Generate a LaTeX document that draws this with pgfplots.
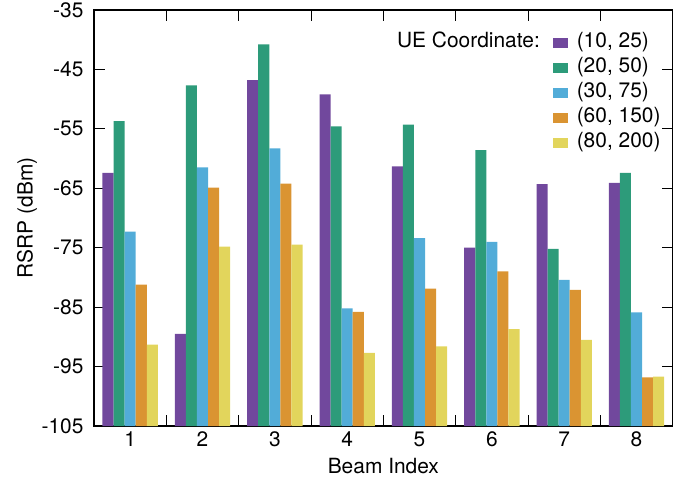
\documentclass[border=0pt]{standalone}
\usepackage{fontspec}
\setmainfont{TeX Gyre Heros}
\usepackage{pgfplots}
\usepackage{pgfplotstable}
\pgfplotsset{compat=1.18}
\definecolor{cA}{RGB}{113,72,157}
\definecolor{cB}{RGB}{45,155,122}
\definecolor{cC}{RGB}{82,172,216}
\definecolor{cD}{RGB}{218,148,50}
\definecolor{cE}{RGB}{226,213,92}
\pgfplotstableread{
beam a b c d e
1 -62.4 -53.7 -72.3 -81.2 -91.3
2 -89.5 -47.7 -61.5 -64.9 -74.8
3 -46.8 -40.8 -58.3 -64.2 -74.5
4 -49.2 -54.6 -85.2 -85.8 -92.7
5 -61.3 -54.3 -73.4 -81.9 -91.6
6 -75.0 -58.6 -74.0 -79.0 -88.7
7 -64.3 -75.2 -80.4 -82.1 -90.5
8 -64.1 -62.4 -85.9 -96.8 -96.7
}\datatable
\newcommand{\fs}{\fontsize{21}{25}\selectfont}
\begin{document}
\begin{tikzpicture}
\useasboundingbox (-94bp,-57bp) rectangle (600bp,426bp);
\begin{axis}[
  at={(0,0)}, anchor=south west,
  scale only axis, width=578.7bp, height=416bp,
  xmin=0.5, xmax=8.5, ymin=0, ymax=70,
  ybar=0pt, bar width=0.153,
  xtick={1,...,8}, xticklabels={1,2,3,4,5,6,7,8},
  major x tick style={draw=none},
  minor xtick={1.5,2.5,...,7.5},
  ytick={0,10,...,70},
  yticklabels={-105,-95,-85,-75,-65,-55,-45,-35},
  major tick length=11bp, minor tick length=11bp,
  tick align=inside,
  tick style={black, line width=1bp},
  axis line style={line width=1.3bp},
  /pgf/number format/assume math mode=true,
  tick label style={font=\fs},
  yticklabel style={xshift=-7bp},
  xticklabel style={yshift=-2bp},
  xlabel={Beam Index}, ylabel={RSRP (dBm)},
  label style={font=\fs},
  x label style={at={(axis description cs:0.5,0)}, anchor=center, yshift=-40bp},
  y label style={at={(axis description cs:-0.1158,0.5)}, anchor=center, rotate=0},
  legend image code/.code={\fill[#1] (0bp,-5bp) rectangle (15bp,5bp);},
  legend style={draw=none, fill=none, font=\fs, inner sep=0pt,
    at={(1,1)}, anchor=north east, xshift=-10bp, yshift=-23.5bp,
    nodes={text height=14bp, text depth=5bp, inner ysep=0pt},
    row sep=6bp, column sep=7bp},
  legend cell align=left,
]
\addplot[fill=cA, draw=none] table[x=beam, y expr=\thisrow{a}+105] {\datatable};
\addplot[fill=cB, draw=none] table[x=beam, y expr=\thisrow{b}+105] {\datatable};
\addplot[fill=cC, draw=none] table[x=beam, y expr=\thisrow{c}+105] {\datatable};
\addplot[fill=cD, draw=none] table[x=beam, y expr=\thisrow{d}+105] {\datatable};
\addplot[fill=cE, draw=none] table[x=beam, y expr=\thisrow{e}+105] {\datatable};
\legend{(10, 25),(20, 50),(30, 75),(60, 150),(80, 200)}
\node[anchor=base east, inner sep=0pt, font=\fs] at (rel axis cs:0.7707,0.9099) {UE Coordinate:};
\end{axis}
\end{tikzpicture}
\end{document}
